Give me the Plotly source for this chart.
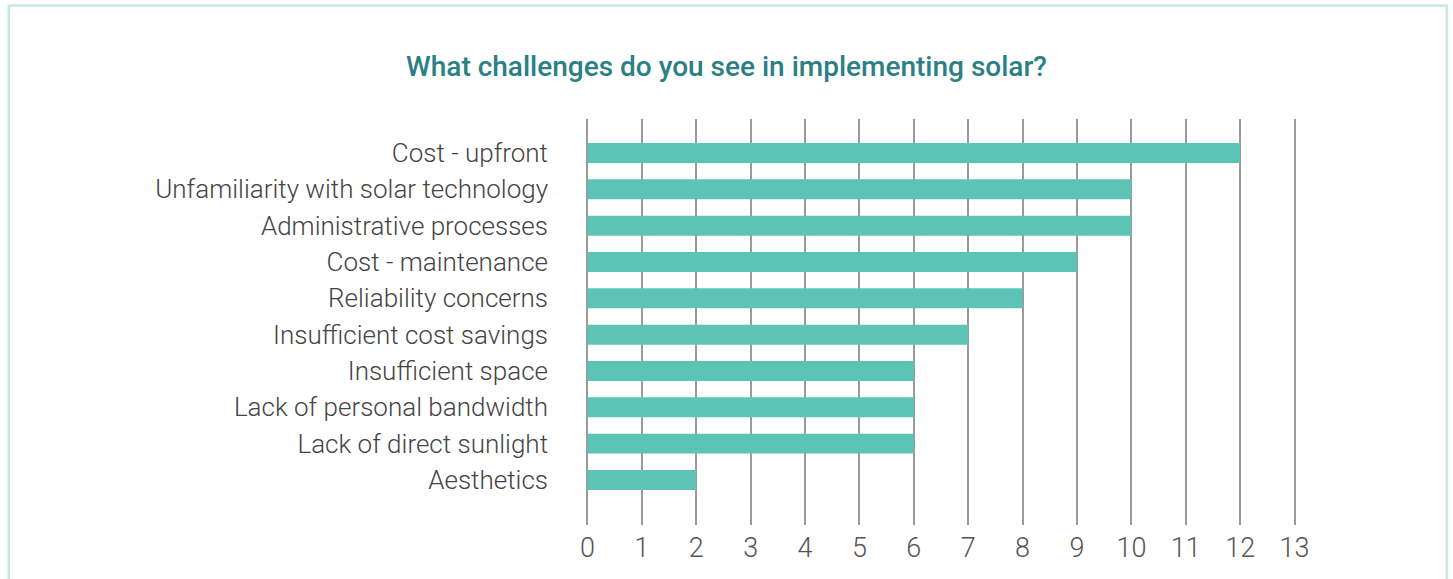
import plotly.graph_objects as go

categories = [
    "Cost - upfront",
    "Unfamiliarity with solar technology",
    "Administrative processes",
    "Cost - maintenance",
    "Reliability concerns",
    "Insufficient cost savings",
    "Insufficient space",
    "Lack of personal bandwidth",
    "Lack of direct sunlight",
    "Aesthetics",
]
values = [12, 10, 10, 9, 8, 7, 6, 6, 6, 2]
x_ticks = list(range(0, 14))
title_text = "What challenges do you see in implementing solar?"

W, H = 1453, 579
L, R, T, B = 581.5, 152.6, 119, 54
pw, ph = W - L - R, H - T - B

fig = go.Figure(go.Bar(
    x=values, y=categories, orientation="h",
    marker=dict(color="#5bc4b4", line=dict(width=0)),
    width=0.55,
))

def px(xp):
    return (xp - L) / pw

def py(yp):
    return 1 - (yp - T) / ph

fig.add_shape(type="rect", xref="paper", yref="paper",
              x0=px(7.5), x1=px(1447.5), y0=py(590), y1=py(5.5),
              line=dict(color="#c6e9e4", width=2.5), layer="below")

fig.update_layout(
    width=W, height=H,
    margin=dict(l=L, r=R, t=T, b=B, pad=0),
    paper_bgcolor="white", plot_bgcolor="white",
    showlegend=False,
    font=dict(family="Roboto", color="#444444", size=26, weight=300),
    title=dict(text=title_text, x=0.5, xref="container", xanchor="center",
               y=1 - 66 / H, yref="container", yanchor="middle",
               font=dict(family="Roboto", size=28, color="#2a8084", weight=500)),
    bargap=0.45,
)
fig.update_xaxes(range=[-0.1, 13.1], tickvals=x_ticks, ticktext=[str(v) for v in x_ticks],
                 showgrid=True, gridcolor="#9a9a9e", gridwidth=2, zeroline=False,
                 showline=False, ticks="", ticklabelstandoff=4,
                 tickfont=dict(size=27, color="#555555"),
                 fixedrange=True)
fig.update_yaxes(categoryorder="array", categoryarray=categories,
                 range=[10.24, -0.936], showgrid=False, zeroline=False, showline=False,
                 ticks="", ticklabelstandoff=33, tickfont=dict(size=26, color="#444444"),
                 fixedrange=True)

fig.write_html("out.html", config={"displayModeBar": False},
               post_script="document.body.style.margin='0px';document.body.style.overflow='hidden';")
